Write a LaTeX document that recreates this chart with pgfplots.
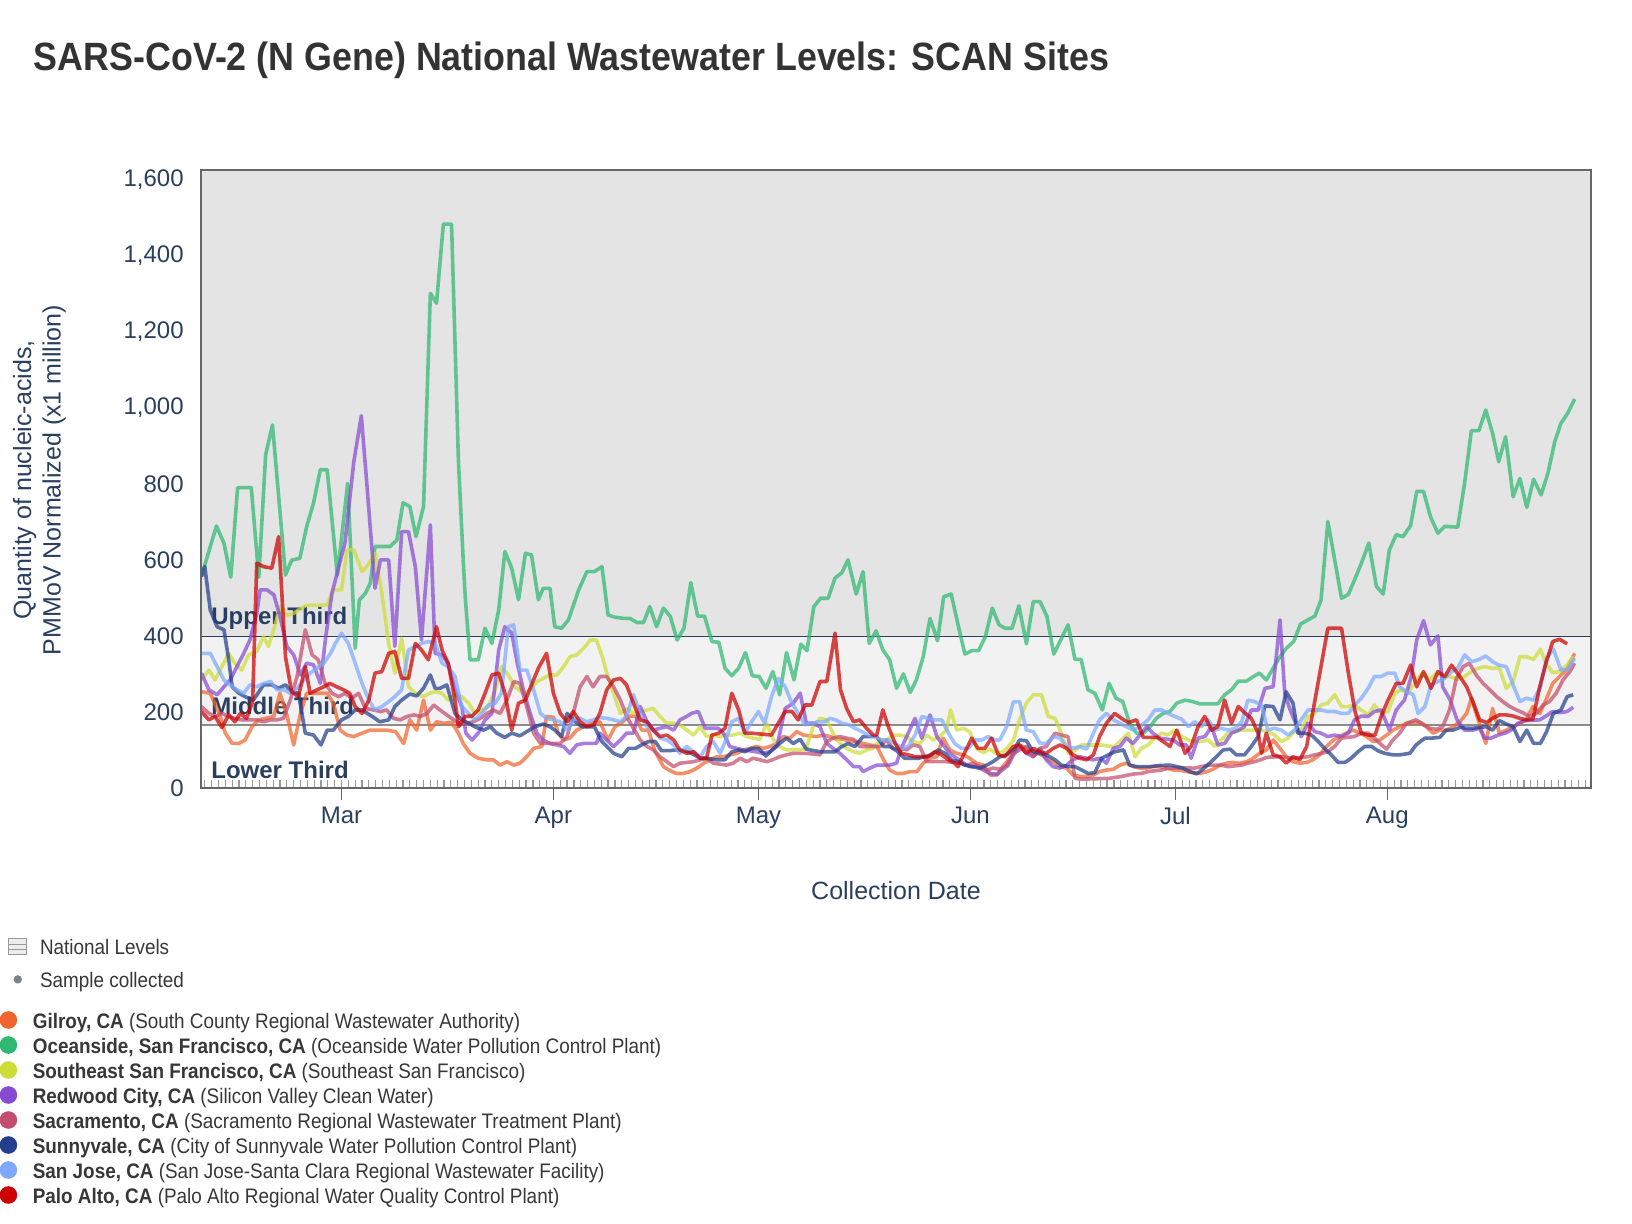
\documentclass[border=0pt]{standalone}
\usepackage{pgfplots}
\pgfplotsset{compat=1.18}
\usepackage{graphicx}
\usepackage{fontspec}
\setmainfont{Liberation Sans}
\definecolor{navytext}{RGB}{42,63,95}
\definecolor{titlec}{RGB}{51,51,51}
\definecolor{legtext}{RGB}{55,55,55}
\definecolor{upperbg}{RGB}{228,228,228}
\definecolor{midbg}{RGB}{242,242,242}
\definecolor{dotgray}{RGB}{122,130,144}
\definecolor{cgil}{RGB}{240,101,46}
\definecolor{cocn}{RGB}{46,184,114}
\definecolor{csesf}{RGB}{205,220,57}
\definecolor{cred}{RGB}{135,75,210}
\definecolor{csac}{RGB}{194,77,110}
\definecolor{csun}{RGB}{35,62,140}
\definecolor{csj}{RGB}{125,170,255}
\definecolor{cpa}{RGB}{204,0,0}
\newcommand{\site}[4]{%
  \fill[#1] (4.2pt,{102pt-#2*12.5pt}) circle (4.4pt);
  \node[anchor=base west, inner sep=0, text=legtext] at (16.2pt,{97.5pt-#2*12.5pt})
    {\scalebox{0.9}[1]{\fontsize{10.5}{12.5}\selectfont\textbf{#3} #4}};}
\begin{document}
\begin{tikzpicture}
\useasboundingbox (0,0) rectangle (816pt,612pt);
\begin{axis}[
  at={(100.35pt,217.85pt)}, anchor=south west,
  scale only axis, width=695.15pt, height=309.25pt,
  xmin=-20.6, xmax=182.8, ymin=0, ymax=1627,
  axis on top,
  axis line style={draw=black!60, line width=1pt},
  xtick={0,31,61,92,122,153},
  xticklabels={Mar,Apr,May,Jun,Jul,Aug},
  minor xtick={-20,...,182},
  xtick pos=left,
  ytick={0,200,...,1600},
  ytick pos=left,
  tick align=outside,
  major tick length=6pt,
  minor tick length=4pt,
  major x tick style={draw=black!60, line width=0.8pt},
  minor x tick style={draw=black!40, line width=0.6pt, yshift=4pt},
  major y tick style={draw=none},
  /pgf/number format/.cd, 1000 sep={,}, assume math mode=true,
  /pgfplots/.cd,
  tick label style={font=\fontsize{12}{14}\selectfont, text=navytext},
  yticklabel style={xshift=1pt},
  every axis plot/.append style={line width=1.8pt, opacity=0.72, line join=round, mark=none},
]
\fill[upperbg] (axis cs:-30,400) rectangle (axis cs:200,1700);
\fill[midbg] (axis cs:-30,166) rectangle (axis cs:200,400);
\draw[navytext, line width=0.6pt] (axis cs:-30,400) -- (axis cs:200,400);
\draw[black!45, line width=0.9pt] (axis cs:-30,166) -- (axis cs:200,166);
\node[anchor=base west, inner sep=0, text=navytext, font=\bfseries\fontsize{12}{14}\selectfont] at (axis cs:-19.1,430) {Upper Third};
\node[anchor=base west, inner sep=0, text=navytext, font=\bfseries\fontsize{12}{14}\selectfont] at (axis cs:-19.1,193) {Middle Third};
\node[anchor=base west, inner sep=0, text=navytext, font=\bfseries\fontsize{12}{14}\selectfont] at (axis cs:-19.1,26) {Lower Third};

% Gilroy
\addplot[cgil] coordinates {(-20.5,254)(-19.2,250)(-17.9,197)(-17.0,145)(-16.0,118)(-15.0,118)(-14.1,127)(-13.1,162)(-12.1,180)(-11.1,184)(-9.9,189)(-9.0,250)(-8.0,193)(-7.0,114)(-6.0,197)(-5.1,250)(-2.1,250)(-1.2,224)(-0.2,153)(0.8,140)(1.8,136)(3.0,145)(4.2,153)(6.6,153)(7.9,149)(9.1,118)(10.0,180)(11.0,153)(12.0,232)(13.0,153)(13.9,175)(14.9,171)(16.1,173)(17.1,145)(17.8,118)(18.8,92)(20.0,79)(21.2,75)(22.2,75)(23.2,61)(24.2,70)(25.2,61)(26.1,66)(27.1,83)(28.1,105)(29.3,110)(30.0,189)(31.0,187)(31.7,145)(32.5,127)(33.4,132)(34.4,153)(35.4,162)(36.6,171)(37.8,175)(39.0,127)(40.0,162)(41.0,173)(42.0,190)(43.0,190)(43.9,153)(44.9,153)(45.9,96)(47.1,57)(48.1,46)(49.0,39)(50.0,39)(51.0,44)(52.0,53)(53.0,66)(53.9,75)(54.9,83)(55.9,83)(56.8,88)(57.8,92)(58.8,101)(59.8,105)(60.7,110)(61.7,105)(62.7,110)(63.7,118)(64.6,136)(65.6,132)(66.6,149)(67.6,140)(68.5,138)(69.5,136)(70.5,140)(71.5,136)(72.4,129)(73.4,129)(74.4,123)(75.4,123)(76.3,118)(77.3,114)(78.3,111)(79.3,75)(80.2,48)(81.2,39)(82.2,39)(83.2,44)(84.2,44)(85.1,66)(86.1,79)(87.1,83)(88.0,132)(89.0,101)(90.0,92)(91.0,88)(91.9,79)(92.9,66)(93.9,61)(94.9,35)(95.9,35)(96.8,58)(97.8,80)(98.7,105)(99.2,114)(100.2,105)(101.2,92)(102.2,90)(103.1,79)(104.1,70)(105.1,57)(106.1,53)(107.0,35)(108.0,31)(109.0,31)(110.0,35)(110.9,44)(111.9,48)(112.9,50)(113.9,61)(114.8,66)(115.8,57)(116.8,53)(117.7,53)(118.7,57)(119.7,57)(120.7,53)(121.7,48)(122.6,48)(123.6,44)(124.6,41)(125.6,39)(126.6,44)(127.5,50)(128.5,61)(129.5,66)(130.4,68)(131.4,66)(132.4,70)(133.4,79)(134.3,92)(135.3,101)(136.3,127)(137.3,105)(138.2,83)(139.2,70)(140.2,66)(141.2,68)(142.1,75)(143.1,88)(144.1,110)(145.1,127)(146.0,136)(147.0,145)(148.0,153)(149.0,145)(150.0,136)(150.9,123)(151.9,127)(152.9,140)(153.8,153)(154.8,162)(155.8,171)(156.8,173)(157.7,173)(158.7,162)(159.7,145)(160.7,153)(161.7,153)(162.6,162)(163.6,175)(164.6,197)(165.3,237)(166.3,180)(167.4,118)(168.4,210)(169.4,145)(170.4,153)(171.4,162)(172.4,171)(173.3,180)(174.3,215)(175.3,197)(176.2,232)(177.2,276)(178.2,294)(179.2,311)(180.4,355)};
% Oceanside
\addplot[cocn] coordinates {(-20.5,557)(-18.3,690)(-17.2,645)(-16.2,555)(-15.2,791)(-13.2,791)(-12.1,555)(-11.1,877)(-10.1,956)(-8.2,561)(-7.3,600)(-6.1,605)(-5.1,688)(-4.1,750)(-3.1,838)(-2.1,838)(-0.6,560)(0.9,802)(2.0,368)(2.6,495)(3.5,513)(4.2,539)(4.9,636)(7.1,636)(8.1,653)(9.0,751)(10.0,741)(10.9,662)(12.0,741)(13.0,1302)(13.9,1276)(14.9,1484)(16.1,1484)(17.1,864)(17.8,601)(18.1,504)(18.8,338)(20.0,338)(21.0,421)(22.0,381)(23.0,469)(23.9,623)(24.9,579)(25.9,496)(26.9,618)(27.8,614)(28.8,496)(29.5,526)(30.5,526)(31.2,425)(32.2,421)(33.2,443)(34.7,522)(35.9,570)(37.0,570)(38.1,583)(39.0,456)(40.0,450)(41.2,447)(42.2,447)(43.2,436)(44.2,436)(45.1,478)(46.1,425)(47.1,474)(48.1,452)(49.1,390)(50.1,421)(51.1,541)(52.1,453)(53.1,453)(54.2,386)(55.2,384)(56.1,316)(57.1,296)(58.1,316)(59.1,357)(60.1,296)(61.1,294)(62.1,263)(63.1,307)(64.1,246)(65.1,357)(66.2,285)(67.2,379)(68.1,362)(69.1,478)(70.1,500)(71.2,500)(72.2,553)(73.2,567)(74.1,601)(75.3,511)(76.3,570)(77.2,381)(78.2,414)(79.2,364)(80.2,338)(81.2,263)(82.2,301)(83.2,252)(84.1,285)(85.1,346)(86.1,447)(87.2,388)(88.1,504)(89.2,511)(90.2,430)(91.2,353)(92.2,362)(93.2,362)(94.2,399)(95.2,474)(96.2,430)(97.1,421)(98.1,421)(99.1,480)(100.2,380)(101.2,491)(102.2,491)(103.2,452)(104.2,353)(106.3,430)(107.3,339)(108.2,339)(109.2,259)(110.2,250)(111.3,206)(112.3,276)(113.3,237)(114.3,228)(115.3,171)(116.3,145)(117.3,145)(118.3,162)(119.2,184)(120.2,197)(121.2,202)(122.2,224)(123.4,232)(124.5,228)(125.6,222)(128.2,222)(129.2,246)(130.2,259)(131.2,282)(132.4,282)(133.4,294)(134.3,303)(135.3,285)(136.3,316)(137.3,346)(138.2,368)(139.3,386)(140.3,432)(141.2,441)(142.4,453)(143.3,495)(144.3,702)(145.3,601)(146.3,500)(147.3,510)(148.2,548)(149.2,592)(150.3,645)(151.4,531)(152.4,511)(153.3,627)(154.3,667)(155.3,662)(156.4,691)(157.3,781)(158.3,781)(159.3,715)(160.4,671)(161.4,689)(163.3,687)(164.3,802)(165.3,941)(166.4,941)(167.4,995)(168.4,934)(169.3,859)(170.3,925)(171.4,767)(172.4,815)(173.4,739)(174.4,813)(175.5,772)(176.5,829)(177.5,912)(178.4,960)(179.4,987)(180.4,1024)};
% Southeast San Francisco
\addplot[csesf] coordinates {(-20.5,285)(-19.4,311)(-18.5,285)(-17.5,320)(-16.5,355)(-15.6,329)(-14.6,311)(-13.6,351)(-12.4,360)(-11.4,399)(-10.7,373)(-9.7,430)(-9.0,478)(-8.0,456)(-7.0,460)(-6.3,469)(-5.1,482)(-2.1,482)(-1.2,522)(0.0,522)(0.8,627)(1.8,627)(3.0,570)(3.9,588)(4.9,618)(5.9,513)(6.9,381)(7.8,303)(8.8,395)(9.8,267)(10.8,250)(12.0,241)(12.9,250)(13.7,254)(14.7,250)(15.6,232)(16.6,245)(17.6,241)(18.6,224)(19.5,197)(20.5,205)(21.5,215)(22.5,259)(23.4,320)(24.4,298)(25.4,267)(26.6,250)(27.6,259)(28.6,281)(29.5,289)(30.5,298)(31.5,298)(32.5,320)(33.4,346)(34.4,351)(35.4,368)(36.4,390)(37.3,390)(38.3,338)(38.8,303)(39.8,250)(40.8,197)(41.7,210)(42.7,197)(43.7,202)(44.7,206)(45.6,210)(46.6,189)(47.6,171)(48.6,171)(49.5,167)(50.5,153)(51.5,140)(52.5,162)(53.4,136)(54.4,140)(55.4,136)(56.3,140)(57.3,140)(58.3,145)(59.3,136)(60.2,132)(61.2,129)(62.2,171)(63.2,127)(64.1,110)(65.1,101)(67.1,101)(68.0,105)(69.0,162)(70.0,184)(71.0,180)(71.9,145)(72.9,118)(73.9,105)(74.9,96)(75.8,92)(76.8,101)(77.8,105)(78.8,127)(79.7,127)(80.7,140)(81.7,140)(82.7,136)(83.6,123)(84.6,118)(85.6,140)(86.6,127)(87.5,136)(88.5,153)(89.1,206)(90.0,153)(91.0,158)(91.9,149)(92.9,105)(93.9,94)(94.8,103)(95.8,92)(96.8,96)(97.8,114)(98.3,127)(99.2,180)(100.2,224)(101.2,246)(102.4,246)(103.4,189)(104.4,184)(105.3,145)(106.3,92)(107.3,100)(108.3,114)(111.2,114)(112.2,111)(113.1,110)(114.1,127)(115.1,145)(116.1,83)(117.0,105)(118.0,114)(119.0,132)(120.0,145)(120.9,140)(121.9,153)(122.9,136)(123.9,127)(124.8,123)(125.8,123)(126.8,127)(127.8,110)(128.7,127)(129.7,145)(130.7,149)(131.6,153)(134.6,153)(135.5,149)(136.5,140)(137.5,123)(138.5,132)(139.4,149)(140.4,153)(141.4,189)(142.4,197)(143.3,219)(144.3,224)(145.3,246)(146.3,215)(147.3,215)(148.2,219)(149.2,206)(150.2,193)(151.1,219)(152.1,197)(153.1,202)(154.1,250)(155.0,259)(156.0,250)(157.2,285)(158.2,303)(159.2,285)(160.2,303)(161.1,294)(162.1,294)(163.3,287)(164.3,294)(165.3,307)(166.3,316)(167.2,320)(168.2,316)(169.4,316)(170.4,263)(171.4,281)(172.4,346)(173.4,346)(174.4,339)(175.4,366)(176.2,329)(177.2,304)(178.2,307)(179.3,324)(180.2,346)};
% Redwood City
\addplot[cred] coordinates {(-20.5,303)(-19.4,259)(-18.2,246)(-17.2,267)(-16.3,285)(-15.3,320)(-14.3,355)(-13.4,390)(-12.4,460)(-11.9,522)(-10.9,522)(-9.9,509)(-9.0,452)(-8.0,373)(-7.0,351)(-6.0,298)(-5.1,329)(-4.1,325)(-3.1,276)(-2.3,400)(-1.4,513)(-0.4,583)(0.5,645)(1.8,859)(2.9,980)(3.7,802)(4.9,526)(5.7,601)(6.9,601)(7.8,373)(8.8,675)(9.8,675)(10.8,583)(11.7,390)(13.0,693)(13.7,355)(14.7,351)(15.6,329)(16.6,259)(17.6,215)(18.2,145)(19.1,127)(20.0,145)(21.0,180)(22.0,197)(23.0,364)(23.9,425)(24.9,408)(25.7,330)(26.6,259)(27.6,197)(28.6,145)(29.5,127)(30.5,118)(31.5,114)(32.5,110)(33.4,92)(34.4,114)(35.4,118)(37.3,118)(37.8,145)(38.8,127)(39.8,110)(40.8,127)(41.7,145)(42.7,145)(43.7,215)(44.7,175)(45.6,153)(46.6,158)(47.6,162)(48.6,153)(49.5,180)(50.5,189)(51.2,197)(52.2,202)(53.2,158)(55.1,158)(55.9,145)(56.8,110)(57.8,105)(58.8,101)(60.7,96)(61.7,92)(62.7,96)(63.7,110)(64.9,210)(66.1,224)(67.1,250)(68.0,171)(69.0,171)(70.0,162)(71.0,118)(71.9,105)(72.9,92)(73.9,75)(74.9,57)(75.8,57)(76.3,44)(77.3,53)(78.3,61)(80.2,61)(81.2,66)(81.9,105)(82.9,145)(83.9,184)(84.9,132)(86.1,193)(87.1,136)(88.0,114)(89.0,92)(90.0,79)(91.0,66)(91.9,57)(92.9,57)(93.9,48)(94.9,39)(95.9,37)(96.8,50)(97.5,60)(98.3,88)(99.2,110)(100.2,92)(101.2,83)(102.2,105)(103.1,75)(104.1,57)(105.1,53)(106.1,61)(107.0,75)(108.0,83)(109.0,79)(110.0,75)(111.0,79)(111.9,66)(112.9,105)(113.9,110)(114.8,132)(115.8,118)(116.8,140)(117.8,162)(118.7,145)(119.7,132)(121.7,127)(122.6,114)(123.6,114)(124.3,79)(125.3,132)(126.3,136)(127.3,162)(128.2,114)(129.2,118)(130.2,145)(131.2,153)(132.1,162)(133.1,206)(134.1,206)(135.1,263)(136.3,267)(137.3,443)(138.0,250)(138.7,210)(139.5,175)(140.4,136)(141.4,171)(142.4,149)(143.3,145)(144.3,136)(145.3,140)(146.3,136)(147.3,145)(148.2,180)(149.2,190)(150.2,189)(151.1,202)(152.1,206)(153.3,153)(154.3,206)(155.5,232)(156.5,294)(157.3,390)(158.3,441)(159.3,377)(160.4,401)(161.1,267)(162.2,232)(163.2,180)(164.3,153)(165.5,153)(166.5,158)(167.2,132)(168.2,132)(169.2,140)(170.2,145)(171.1,153)(172.1,171)(173.1,178)(175.3,180)(176.2,190)(177.2,202)(178.2,199)(179.3,202)(180.2,213)};
% Sacramento
\addplot[csac] coordinates {(-20.5,215)(-19.4,197)(-18.5,189)(-17.5,197)(-16.5,189)(-15.6,184)(-14.6,180)(-12.4,180)(-11.4,175)(-10.4,180)(-9.4,180)(-8.5,184)(-7.5,232)(-6.5,294)(-5.3,417)(-4.3,351)(-3.4,338)(-2.4,276)(-1.4,250)(-0.4,241)(0.5,250)(1.5,237)(2.5,250)(3.5,210)(4.7,206)(5.7,202)(6.6,206)(7.6,184)(8.6,180)(9.6,189)(10.6,193)(11.6,189)(12.5,197)(13.5,219)(14.4,206)(15.4,193)(16.4,180)(17.4,167)(18.3,171)(19.3,175)(20.3,184)(21.3,197)(22.2,206)(23.2,197)(24.2,232)(25.2,281)(26.1,276)(27.1,215)(28.1,145)(29.1,118)(32.0,118)(33.0,136)(33.9,197)(34.9,267)(35.9,294)(36.8,267)(37.8,294)(38.8,294)(39.8,267)(40.8,232)(41.7,189)(42.7,158)(43.7,127)(44.7,110)(45.6,101)(46.6,83)(47.6,70)(48.6,57)(49.5,66)(51.5,70)(52.5,75)(53.4,79)(54.4,66)(56.3,61)(57.3,66)(58.3,79)(59.3,70)(60.2,79)(61.2,75)(62.2,70)(63.2,76)(64.1,83)(65.1,88)(66.1,92)(68.0,92)(70.0,88)(71.0,123)(71.9,132)(72.9,136)(73.9,132)(74.9,129)(75.8,110)(78.8,110)(79.7,127)(80.7,105)(81.7,105)(82.7,101)(83.6,114)(84.6,110)(85.6,70)(88.5,70)(90.5,66)(91.4,61)(92.4,66)(93.4,57)(94.4,48)(95.3,53)(96.3,50)(97.3,60)(98.3,92)(99.2,101)(100.2,110)(101.2,83)(102.2,105)(103.1,110)(104.4,145)(105.3,140)(106.3,136)(107.3,26)(108.3,24)(112.2,26)(114.1,31)(115.1,35)(116.1,38)(117.0,39)(118.0,44)(119.0,46)(120.0,48)(120.9,53)(122.9,54)(124.8,53)(125.8,57)(126.8,61)(128.7,61)(129.7,57)(131.7,61)(132.6,66)(133.6,70)(134.6,76)(135.5,82)(137.5,83)(139.4,79)(141.4,83)(142.4,88)(144.3,96)(145.3,110)(146.3,132)(148.2,136)(149.2,145)(150.2,145)(151.1,132)(151.9,118)(152.9,103)(153.8,127)(154.8,145)(155.8,171)(157.2,180)(158.2,169)(159.2,158)(160.2,155)(161.1,162)(162.1,206)(163.1,289)(164.1,320)(165.0,329)(166.0,298)(167.0,276)(168.0,259)(169.0,241)(169.9,228)(170.9,215)(171.9,206)(172.8,199)(173.8,189)(174.8,197)(175.8,219)(176.7,228)(177.7,250)(178.7,285)(179.7,307)(180.4,329)};
% Sunnyvale
\addplot[csun] coordinates {(-20.5,557)(-20.0,583)(-19.2,469)(-18.2,425)(-17.2,417)(-16.5,338)(-16.0,267)(-15.0,250)(-14.1,241)(-12.9,232)(-11.4,272)(-10.2,272)(-9.2,263)(-8.2,272)(-7.3,254)(-6.3,250)(-5.3,145)(-4.1,140)(-3.0,114)(-2.1,153)(-1.2,153)(0.0,180)(1.0,189)(2.0,206)(3.0,206)(4.5,189)(5.6,175)(6.9,180)(7.8,215)(8.8,232)(10.0,248)(11.0,243)(12.0,263)(13.0,298)(13.7,263)(14.4,263)(15.4,272)(16.6,197)(17.6,180)(18.6,171)(19.5,162)(20.8,153)(21.8,162)(22.7,145)(23.9,134)(24.9,145)(26.1,138)(27.1,149)(28.3,162)(29.5,169)(30.5,162)(31.2,153)(32.2,136)(33.0,197)(34.2,175)(35.2,162)(37.0,162)(38.0,125)(39.8,92)(41.0,83)(42.0,105)(43.0,105)(43.9,114)(44.9,123)(45.9,123)(46.8,99)(48.0,99)(49.0,101)(50.2,99)(51.2,92)(52.5,79)(53.4,79)(54.9,75)(56.1,75)(57.1,96)(58.1,101)(59.0,96)(60.0,105)(61.0,105)(62.1,85)(63.2,105)(64.1,118)(65.1,132)(66.1,118)(67.1,129)(68.0,103)(69.1,99)(70.1,96)(72.2,96)(73.2,110)(74.1,118)(75.1,110)(76.3,136)(78.3,136)(79.3,110)(80.2,110)(81.2,99)(82.4,79)(84.4,79)(85.3,83)(86.3,88)(87.3,101)(88.3,92)(89.2,75)(90.2,70)(91.2,61)(92.2,57)(93.4,53)(94.4,61)(95.3,70)(96.3,83)(97.3,88)(98.5,105)(99.2,127)(100.2,125)(101.2,96)(102.2,92)(103.1,88)(104.4,75)(105.3,61)(106.3,57)(107.3,57)(108.3,48)(109.2,39)(110.2,41)(111.2,79)(112.2,88)(113.1,96)(114.4,101)(115.3,61)(116.3,57)(118.3,57)(119.7,60)(121.2,61)(122.2,57)(123.1,53)(124.1,44)(125.1,38)(126.0,50)(127.0,66)(128.0,83)(129.0,101)(130.0,103)(130.9,88)(132.1,88)(133.1,110)(134.1,136)(135.1,217)(136.3,215)(137.3,180)(138.2,254)(139.2,224)(139.9,145)(140.9,145)(141.9,140)(142.9,123)(143.8,105)(144.8,88)(145.8,68)(146.8,68)(147.7,79)(148.7,96)(149.7,110)(150.7,110)(151.6,99)(152.6,92)(153.8,88)(154.8,88)(156.3,92)(157.2,114)(158.5,132)(159.5,132)(160.7,134)(161.6,153)(162.6,153)(163.6,160)(164.6,158)(165.5,158)(166.5,160)(167.5,162)(168.4,153)(169.4,178)(170.4,169)(171.4,162)(172.4,123)(173.4,153)(174.4,118)(175.4,118)(176.3,149)(177.3,197)(178.4,206)(179.3,241)(180.2,246)};
% San Jose
\addplot[csj] coordinates {(-20.5,355)(-19.2,355)(-18.2,320)(-17.2,285)(-16.3,272)(-15.3,259)(-14.3,250)(-13.4,272)(-12.4,267)(-11.4,276)(-10.4,281)(-9.4,259)(-8.4,259)(-7.5,250)(-6.5,263)(-5.5,285)(-4.6,303)(-3.6,316)(-2.6,329)(-1.6,355)(-0.9,381)(0.0,408)(1.0,381)(2.0,329)(3.0,276)(4.0,232)(4.9,206)(5.9,215)(6.9,228)(7.8,241)(8.8,259)(9.8,364)(10.8,373)(11.7,381)(12.7,386)(13.7,381)(14.7,329)(15.6,320)(16.6,294)(17.6,215)(18.6,197)(19.5,180)(20.5,197)(21.5,219)(22.5,224)(23.4,250)(24.4,425)(25.2,430)(26.1,311)(27.1,311)(28.1,259)(29.1,197)(30.0,184)(31.0,180)(32.0,175)(33.0,153)(33.9,180)(34.9,184)(35.9,175)(36.9,180)(37.8,186)(38.8,184)(39.8,180)(40.8,175)(41.7,189)(42.7,246)(43.7,197)(44.7,162)(45.6,153)(46.6,132)(47.6,127)(48.6,114)(49.5,92)(50.5,110)(51.5,96)(52.5,83)(53.4,110)(54.4,123)(55.4,92)(56.3,130)(57.1,175)(58.1,184)(59.0,145)(60.0,175)(61.0,202)(61.9,171)(62.9,241)(63.9,289)(64.9,267)(65.8,228)(66.8,197)(67.8,167)(68.8,171)(69.7,175)(70.7,175)(71.5,184)(72.3,180)(73.2,171)(74.2,167)(75.1,158)(76.1,149)(77.1,140)(78.1,136)(79.0,127)(80.0,127)(81.0,118)(81.9,105)(82.9,110)(83.9,140)(84.9,189)(85.8,184)(86.8,180)(87.8,180)(88.8,145)(89.7,118)(90.7,105)(91.7,105)(92.7,127)(93.7,127)(94.6,136)(95.6,127)(96.3,127)(97.3,162)(98.3,228)(99.2,228)(100.2,153)(101.2,149)(102.2,118)(103.1,118)(104.1,136)(105.1,132)(106.1,110)(107.0,105)(108.0,110)(109.0,103)(110.0,145)(110.9,180)(111.9,197)(112.9,180)(113.9,171)(114.8,162)(115.8,153)(116.8,162)(118.0,180)(119.0,206)(120.0,206)(120.9,197)(121.9,189)(122.9,182)(123.9,162)(124.8,175)(125.8,162)(126.8,180)(127.8,153)(128.7,158)(129.7,153)(130.7,158)(131.7,175)(132.6,232)(133.6,228)(134.6,219)(135.5,153)(136.5,158)(137.5,153)(138.5,140)(139.4,153)(140.4,180)(141.4,206)(143.3,206)(144.3,202)(145.3,202)(146.3,197)(147.3,197)(148.2,219)(149.2,237)(150.2,263)(151.1,294)(152.1,294)(153.1,303)(154.1,303)(154.8,267)(155.8,254)(156.8,246)(157.5,197)(158.5,215)(159.4,272)(160.4,281)(161.4,289)(162.4,307)(163.3,316)(164.3,351)(165.3,333)(166.3,338)(167.4,348)(168.4,333)(169.3,324)(170.4,320)(171.4,272)(172.4,228)(173.3,237)(174.4,232)(175.4,267)(176.3,342)(177.3,366)(178.4,311)(179.4,313)(180.4,342)};
% Palo Alto
\addplot[cpa] coordinates {(-20.5,202)(-19.4,180)(-18.5,189)(-17.5,160)(-16.5,193)(-15.6,175)(-14.8,197)(-13.9,184)(-13.0,228)(-12.4,592)(-11.4,583)(-10.2,579)(-9.2,662)(-8.2,346)(-7.3,254)(-6.3,241)(-5.3,320)(-4.6,250)(-3.6,259)(-2.6,267)(-1.7,276)(-0.7,267)(0.3,259)(1.2,250)(2.0,215)(3.0,197)(4.0,232)(4.9,303)(5.9,307)(6.9,355)(7.8,360)(8.8,289)(9.8,289)(10.8,381)(11.7,364)(12.7,338)(13.9,425)(14.7,364)(15.6,329)(16.6,232)(17.1,162)(18.1,189)(19.1,190)(20.0,206)(21.0,250)(22.0,298)(23.0,303)(23.9,250)(24.9,153)(25.9,224)(26.9,232)(27.8,272)(28.8,316)(30.0,355)(31.0,250)(32.0,197)(33.0,175)(33.9,202)(34.9,175)(35.9,162)(36.9,167)(37.8,197)(38.8,259)(39.8,285)(40.8,289)(41.7,272)(42.7,224)(43.7,180)(44.7,175)(45.6,153)(46.6,136)(47.6,140)(48.6,127)(49.5,101)(50.5,92)(51.5,96)(52.5,79)(53.4,79)(54.2,140)(55.2,145)(56.1,158)(57.1,250)(58.1,206)(59.0,145)(60.0,145)(62.9,140)(63.9,171)(64.9,202)(65.9,202)(66.8,180)(67.8,219)(68.8,219)(70.0,281)(71.0,281)(72.2,408)(73.0,259)(73.9,210)(74.9,175)(75.8,180)(76.8,158)(77.8,140)(78.3,140)(79.2,206)(80.0,162)(81.0,118)(81.9,92)(82.9,88)(83.9,83)(85.8,83)(86.8,96)(87.8,88)(88.8,75)(89.7,66)(90.2,57)(91.2,95)(92.2,132)(93.1,105)(94.1,105)(95.1,132)(96.1,88)(97.0,83)(98.3,110)(99.2,114)(100.2,92)(101.2,105)(102.2,96)(103.1,92)(104.1,105)(105.1,114)(106.1,105)(107.0,88)(108.0,79)(109.0,75)(110.0,88)(110.9,136)(111.9,171)(113.1,197)(114.1,184)(115.1,173)(116.3,180)(117.3,134)(119.3,134)(120.2,123)(121.2,110)(122.2,153)(123.4,92)(124.3,110)(125.3,162)(126.3,189)(127.3,153)(128.2,162)(129.2,232)(130.2,171)(131.2,215)(132.1,199)(133.1,184)(134.1,145)(134.6,92)(135.3,145)(136.3,88)(137.3,83)(138.2,66)(139.2,83)(140.2,75)(141.2,110)(144.3,421)(146.3,421)(147.3,303)(148.3,200)(149.2,145)(150.2,140)(151.2,140)(152.1,189)(153.1,232)(154.3,276)(155.3,276)(156.4,324)(157.3,267)(158.3,307)(159.4,263)(160.4,307)(161.4,294)(162.4,324)(163.6,294)(164.6,267)(165.6,224)(166.5,180)(167.5,173)(168.4,184)(169.4,193)(170.4,193)(171.4,190)(172.4,184)(173.3,180)(174.3,182)(175.3,267)(176.2,329)(177.2,386)(178.2,392)(179.3,380)};
\end{axis}

% title
\node[anchor=base west, inner sep=0, text=titlec] at (16.7pt,576.65pt)
  {\resizebox{537.7pt}{14.3pt}{\bfseries SARS-CoV-2 (N Gene) National Wastewater Levels: SCAN Sites}};
% axis titles
\node[anchor=base, inner sep=0, rotate=90, text=navytext, font=\fontsize{12.5}{14}\selectfont] at (15.5pt,372pt) {Quantity of nucleic-acids,};
\node[anchor=base, inner sep=0, rotate=90, text=navytext, font=\fontsize{12.5}{14}\selectfont] at (30.25pt,372pt) {PMMoV Normalized (x1 million)};
\node[anchor=center, inner sep=0, text=navytext, font=\fontsize{12.5}{14}\selectfont] at (448pt,166.5pt) {Collection Date};

% legend
\fill[black!7] (4.2pt,134.5pt) rectangle (13pt,142.5pt);
\draw[black!40, line width=0.5pt] (4.2pt,134.5pt) rectangle (13pt,142.5pt);
\draw[black!40, line width=0.5pt] (4.2pt,137.2pt) -- (13pt,137.2pt);
\draw[black!40, line width=0.5pt] (4.2pt,139.9pt) -- (13pt,139.9pt);
\node[anchor=base west, inner sep=0, text=legtext] at (19.8pt,134.5pt) {\scalebox{0.9}[1]{\fontsize{10.5}{12.5}\selectfont National Levels}};
\fill[dotgray] (8.9pt,122.3pt) circle (2.1pt);
\node[anchor=base west, inner sep=0, text=legtext] at (19.8pt,118pt) {\scalebox{0.9}[1]{\fontsize{10.5}{12.5}\selectfont Sample collected}};
\site{cgil}{0}{Gilroy, CA}{(South County Regional Wastewater Authority)}
\site{cocn}{1}{Oceanside, San Francisco, CA}{(Oceanside Water Pollution Control Plant)}
\site{csesf}{2}{Southeast San Francisco, CA}{(Southeast San Francisco)}
\site{cred}{3}{Redwood City, CA}{(Silicon Valley Clean Water)}
\site{csac}{4}{Sacramento, CA}{(Sacramento Regional Wastewater Treatment Plant)}
\site{csun}{5}{Sunnyvale, CA}{(City of Sunnyvale Water Pollution Control Plant)}
\site{csj}{6}{San Jose, CA}{(San Jose-Santa Clara Regional Wastewater Facility)}
\site{cpa}{7}{Palo Alto, CA}{(Palo Alto Regional Water Quality Control Plant)}
\end{tikzpicture}
\end{document}
